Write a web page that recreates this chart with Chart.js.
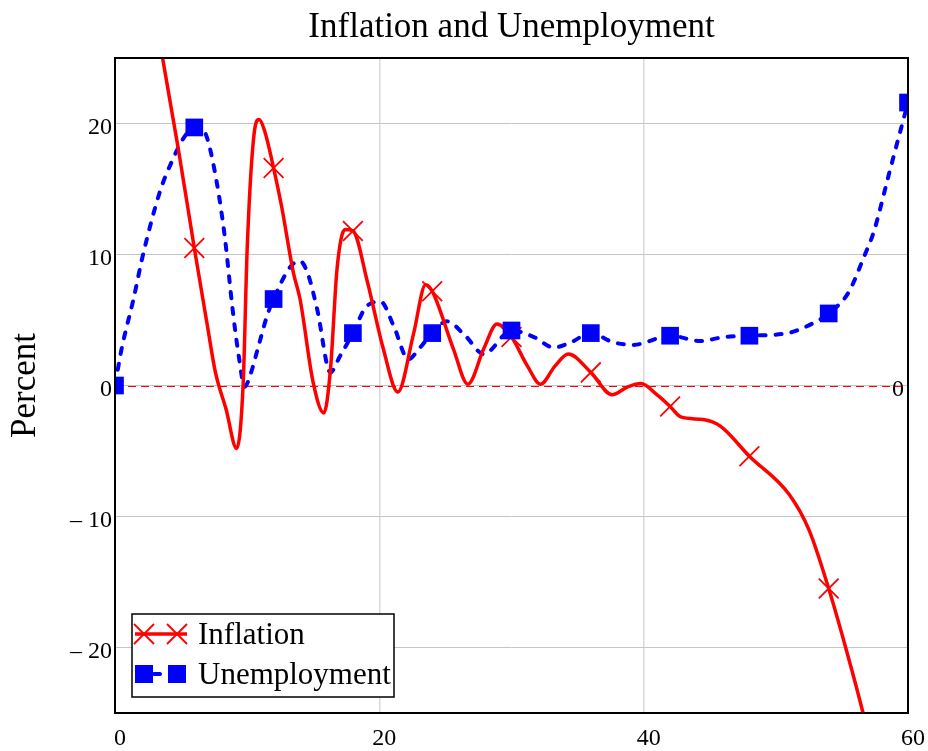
<!DOCTYPE html>
<html>
<head>
<meta charset="utf-8">
<script src="https://cdn.jsdelivr.net/npm/chart.js@4.4.1/dist/chart.umd.min.js"></script>
<style>
  html, body { margin: 0; padding: 0; background: #fff; }
</style>
</head>
<body>
<canvas id="myChart" width="928" height="751"></canvas>
<script>
// curve points
const inflX = [0, 2, 3.6, 4.8, 6, 7, 7.6, 8.4, 9.2, 9.7, 10.0, 10.5, 10.9, 11.3, 12, 12.6, 13.5, 14.0, 15.0, 15.8, 16.3, 16.8, 17.4, 18, 19.1, 20.3, 21.4, 22.6, 23.5, 24, 25.6, 26.7, 27.9, 28.9, 30, 31.2, 32.2, 33.3, 34.3, 36, 37.6, 38.8, 39.8, 41, 42, 42.8, 44.5, 45.8, 48, 51, 52.5, 54, 55.5, 56.6, 58];
const inflY = [47, 35, 25, 18, 10.5, 4.5, 1.0, -1.8, -4.8, 0.2, 10.4, 19.0, 20.3, 19.5, 16.6, 13.7, 8.6, 6.6, 0.2, -2.1, 1.2, 8.9, 11.9, 11.8, 7.9, 2.8, -0.5, 4.0, 7.7, 7.2, 2.8, 0.1, 2.8, 4.7, 3.7, 1.5, 0.1, 1.5, 2.4, 1.0, -0.7, -0.1, 0.15, -0.7, -1.6, -2.4, -2.6, -3.1, -5.4, -8.3, -11, -15.5, -20.8, -25, -31];

const unempX = [0, 0.5, 1.4, 2.1, 3.4, 4.3, 5.2, 6, 6.6, 7.0, 7.7, 8.3, 8.9, 9.4, 9.8, 10.3, 10.8, 11.5, 12, 13.3, 14.0, 14.6, 15.3, 16.3, 17.0, 18, 19, 20.1, 21.1, 22.2, 23, 24, 25.1, 26.5, 27.9, 30, 31.7, 33.2, 34.5, 36, 37.7, 39.2, 42, 44.3, 46.1, 48, 50.9, 52.9, 54, 55.5, 56.7, 57.4, 58.6, 59.6, 60];
const unempY = [0, 2.8, 6.6, 9.9, 14.8, 17.1, 18.9, 19.7, 19.6, 18.8, 15.5, 11.4, 5.8, 2.0, -0.1, 1.0, 2.8, 5.3, 6.6, 9.1, 9.5, 8.5, 5.8, 1.0, 2.2, 4.0, 6.0, 6.4, 4.5, 2.0, 2.8, 4.0, 4.9, 3.8, 2.4, 4.2, 3.7, 2.9, 3.3, 4.0, 3.3, 3.1, 3.8, 3.4, 3.7, 3.8, 4.0, 4.8, 5.5, 7.1, 9.9, 11.7, 16.3, 20.1, 21.6];

// marker positions
const markX = [0, 6, 12, 18, 24, 30, 36, 42, 48, 54, 60];
const inflMarkY = [null, 10.5, 16.6, 11.8, 7.2, 3.7, 1.0, -1.6, -5.4, -15.5, null];
const unempMarkY = [0, 19.7, 6.6, 4.0, 4.0, 4.2, 4.0, 3.8, 3.8, 5.5, 21.6];

const xTicks = [0, 20, 40, 60];
const yTicks = [-20, -10, 0, 10, 20];

const chartTitle = 'Inflation and Unemployment';
const serif = 'Liberation Serif';
const pts = (xs, ys) => xs.map((x, i) => ({ x: x, y: ys[i] }));

const framePlugin = {
  id: 'frame',
  beforeDatasetsDraw(chart) {
    const { ctx, chartArea: a, scales } = chart;
    const y0 = Math.round(scales.y.getPixelForValue(0)) + 0.5;
    ctx.save();
    ctx.strokeStyle = '#ff0000';
    ctx.lineWidth = 1;
    ctx.setLineDash([8, 5]);
    ctx.beginPath();
    ctx.moveTo(a.left, y0);
    ctx.lineTo(a.right, y0);
    ctx.stroke();
    ctx.setLineDash([]);
    ctx.fillStyle = '#000';
    ctx.font = '24px ' + serif;
    ctx.textAlign = 'right';
    ctx.textBaseline = 'middle';
    ctx.fillText('0', a.right - 4, y0 + 3);
    ctx.restore();
  },
  afterDatasetsDraw(chart) {
    const { ctx, chartArea: a } = chart;
    ctx.save();
    ctx.strokeStyle = '#000';
    ctx.lineWidth = 2;
    ctx.strokeRect(a.left, a.top, a.right - a.left, a.bottom - a.top);

    // title, centred over the plot area
    ctx.fillStyle = '#000';
    ctx.font = '35px ' + serif;
    ctx.textAlign = 'center';
    ctx.textBaseline = 'middle';
    ctx.fillText(chartTitle, (a.left + a.right) / 2, 28);

    // legend box
    ctx.fillStyle = '#fff';
    ctx.fillRect(132, 614, 262, 83);
    ctx.lineWidth = 1.5;
    ctx.strokeRect(132, 614, 262, 83);

    // Inflation row
    ctx.strokeStyle = '#ff0000';
    ctx.lineWidth = 3.5;
    ctx.beginPath();
    ctx.moveTo(135, 634);
    ctx.lineTo(187, 634);
    ctx.stroke();
    ctx.lineWidth = 1.8;
    [144, 177].forEach(cx => {
      ctx.beginPath();
      ctx.moveTo(cx - 10, 624); ctx.lineTo(cx + 10, 644);
      ctx.moveTo(cx - 10, 644); ctx.lineTo(cx + 10, 624);
      ctx.stroke();
    });

    // Unemployment row
    ctx.strokeStyle = '#0000ff';
    ctx.lineWidth = 4;
    ctx.lineCap = 'round';
    ctx.setLineDash([6, 10]);
    ctx.beginPath();
    ctx.moveTo(138, 674);
    ctx.lineTo(184, 674);
    ctx.stroke();
    ctx.setLineDash([]);
    ctx.fillStyle = '#0000ff';
    ctx.fillRect(135, 665, 18, 18);
    ctx.fillRect(168, 665, 18, 18);

    ctx.fillStyle = '#000';
    ctx.font = '31px ' + serif;
    ctx.textAlign = 'left';
    ctx.textBaseline = 'middle';
    ctx.fillText('Inflation', 198, 636);
    ctx.fillText('Unemployment', 198, 676);
    ctx.restore();
  }
};

const ctx = document.getElementById('myChart');

new Chart(ctx, {
  type: 'line',
  data: {
    datasets: [{
      label: 'Unemployment markers',
      data: pts(markX, unempMarkY),
      showLine: false,
      pointStyle: 'rect',
      pointRadius: 12.5,
      backgroundColor: '#0000ff',
      borderColor: '#0000ff',
      borderWidth: 0,
      clip: 0
    }, {
      label: 'Inflation markers',
      data: pts(markX, inflMarkY),
      showLine: false,
      pointStyle: 'crossRot',
      pointRadius: 14,
      borderColor: '#ff0000',
      borderWidth: 1.8,
      clip: 0
    }, {
      label: 'Inflation',
      data: pts(inflX, inflY),
      borderColor: '#ff0000',
      borderWidth: 3.5,
      pointRadius: 0,
      cubicInterpolationMode: 'monotone',
      clip: 0
    }, {
      label: 'Unemployment',
      data: pts(unempX, unempY),
      borderColor: '#0000ff',
      borderWidth: 4,
      borderDash: [6, 10],
      borderCapStyle: 'round',
      pointRadius: 0,
      cubicInterpolationMode: 'monotone',
      clip: 0
    }]
  },
  options: {
    responsive: false,
    animation: false,
    events: [],
    layout: { padding: { left: 0, right: 20, top: 58, bottom: 0 } },
    plugins: {
      legend: { display: false },
      tooltip: { enabled: false },
      title: { display: false }
    },
    scales: {
      x: {
        type: 'linear',
        min: 0,
        max: 60,
        afterBuildTicks: s => { s.ticks = xTicks.map(v => ({ value: v })); },
        afterFit: s => { s.height = 38; s.paddingLeft = 0; s.paddingRight = 0; },
        grid: { color: '#d9d9d9', lineWidth: 1.5, drawTicks: false },
        border: { display: false },
        ticks: {
          color: '#000',
          font: { family: serif, size: 24 },
          padding: 11,
          labelOffset: 5,
          maxRotation: 0
        }
      },
      y: {
        type: 'linear',
        min: -25,
        max: 25,
        afterBuildTicks: s => { s.ticks = yTicks.map(v => ({ value: v })); },
        afterFit: s => { s.width = 115; s.paddingTop = 0; s.paddingBottom = 0; },
        grid: { color: '#c4c4c4', lineWidth: 1, drawTicks: false },
        border: { display: false },
        title: {
          display: true,
          text: 'Percent',
          color: '#000',
          font: { family: serif, size: 35 },
          padding: { top: 5, bottom: 0 }
        },
        ticks: {
          color: '#000',
          font: { family: serif, size: 24 },
          padding: 3,
          labelOffset: 4,
          callback: v => v < 0 ? '\u2013 ' + (-v) : '' + v
        }
      }
    }
  },
  plugins: [framePlugin]
});
</script>
</body>
</html>
